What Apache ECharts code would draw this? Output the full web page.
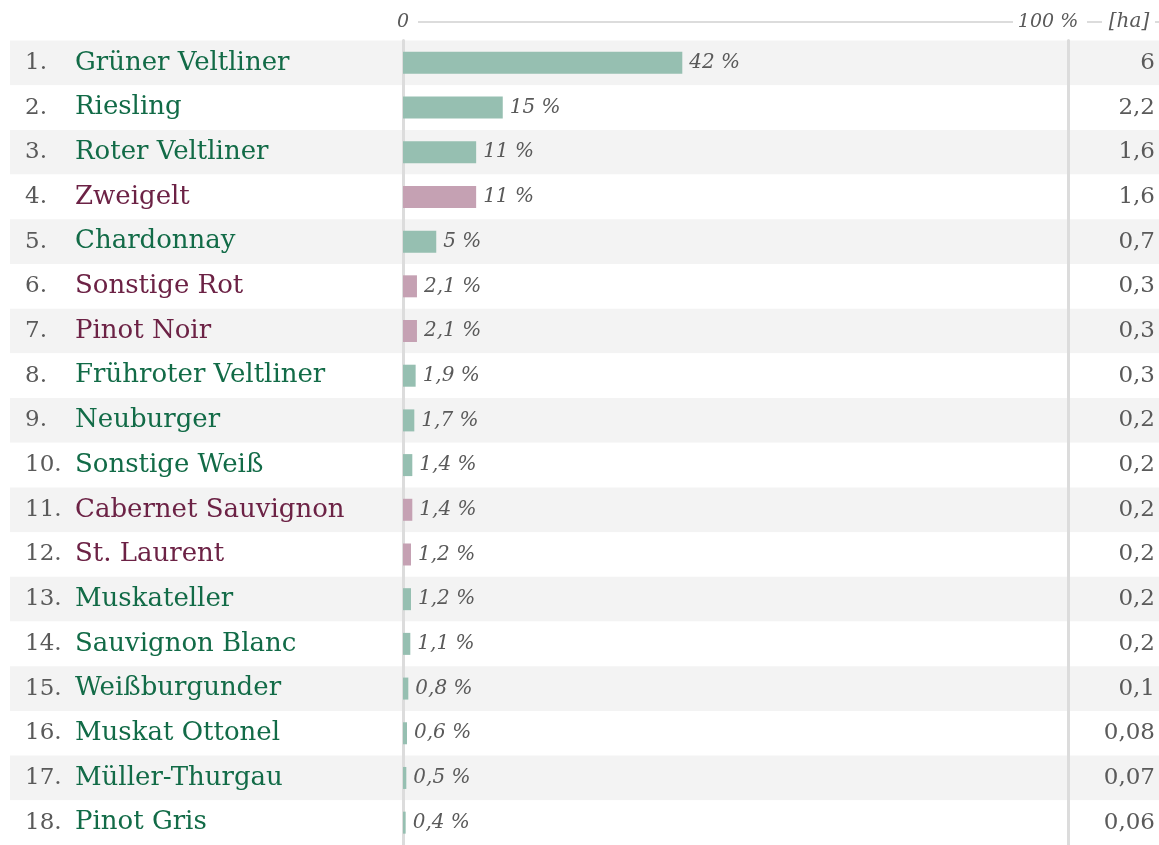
<!DOCTYPE html>
<html><head><meta charset="utf-8">
<script src="https://cdn.jsdelivr.net/npm/echarts@6/dist/echarts.min.js"></script>
<style>html,body{margin:0;padding:0;background:#fff}#c{width:1159px;height:845px}</style>
</head><body><div id="c"></div>
<script>
const varieties = ['Grüner Veltliner','Riesling','Roter Veltliner','Zweigelt','Chardonnay','Sonstige Rot','Pinot Noir','Frühroter Veltliner','Neuburger','Sonstige Weiß','Cabernet Sauvignon','St. Laurent','Muskateller','Sauvignon Blanc','Weißburgunder','Muskat Ottonel','Müller-Thurgau','Pinot Gris'];
const kinds = ['weiss','weiss','weiss','rot','weiss','rot','rot','weiss','weiss','weiss','rot','rot','weiss','weiss','weiss','weiss','weiss','weiss'];
const shares = [42,15,11,11,5,2.1,2.1,1.9,1.7,1.4,1.4,1.2,1.2,1.1,0.8,0.6,0.5,0.4];
const hectares = [6,2.2,1.6,1.6,0.7,0.3,0.3,0.3,0.2,0.2,0.2,0.2,0.2,0.2,0.1,0.08,0.07,0.06];
const headerLabels = ['0','100 %','[ha]'];

const GREEN_T = '#126b47', RED_T = '#6c2245', GREEN_B = '#96bfb1', RED_B = '#c5a1b3';
const FONT = 'DejaVu Serif';
const fmt = v => String(v).replace('.', ',');

const chart = echarts.init(document.getElementById('c'));
const TOP = 40.5, H = 810;
chart.setOption({
  animation: false,
  grid: [
    {left: 10, right: 0, top: TOP, height: H},
    {left: 403, right: 91, top: TOP, height: H}
  ],
  xAxis: [
    {gridIndex: 0, type: 'value', show: false, min: 0, max: 1},
    {gridIndex: 1, type: 'value', min: 0, max: 100, show: false}
  ],
  yAxis: [
    {gridIndex: 0, type: 'category', data: varieties, inverse: true, show: true,
     axisLine: {show: false}, axisTick: {show: false}, axisLabel: {show: false},
     splitLine: {show: false},
     splitArea: {show: true, areaStyle: {color: ['#f3f3f3', '#ffffff']}}},
    {gridIndex: 1, type: 'category', data: varieties, inverse: true,
     axisLine: {show: true, lineStyle: {color: '#dcdcdc', width: 3}},
     axisTick: {show: false},
     axisLabel: {
       align: 'left', margin: 378, fontFamily: FONT,
       formatter: (v, i) => '{num|' + (i + 1) + '.}{' + kinds[i] + '|' + v + '}',
       rich: {
         num: {width: 50, color: '#5a5a5a', fontSize: 23, fontFamily: FONT},
         weiss: {color: GREEN_T, fontSize: 26, fontFamily: FONT},
         rot: {color: RED_T, fontSize: 26, fontFamily: FONT}
       }
     }},
    {gridIndex: 1, type: 'category', data: hectares.map(fmt), inverse: true, position: 'right',
     axisLine: {show: true, lineStyle: {color: '#dcdcdc', width: 3}},
     axisTick: {show: false},
     axisLabel: {align: 'right', margin: 87, color: '#5a5a5a', fontSize: 23, fontFamily: FONT}}
  ],
  series: [{
    type: 'bar', xAxisIndex: 1, yAxisIndex: 1,
    data: shares.map((v, i) => ({value: v, itemStyle: {color: kinds[i] === 'rot' ? RED_B : GREEN_B}})),
    barWidth: 22,
    label: {show: true, position: 'right', distance: 7, color: '#5a5a5a', fontStyle: 'italic',
            fontSize: 20, fontFamily: FONT, formatter: p => fmt(p.value) + ' %'}
  }],
  graphic: [
    {type: 'line', shape: {x1: 418, y1: 22, x2: 1013, y2: 22}, style: {stroke: '#dcdcdc', lineWidth: 2}},
    {type: 'line', shape: {x1: 1087, y1: 22, x2: 1102, y2: 22}, style: {stroke: '#dcdcdc', lineWidth: 2}},
    {type: 'line', shape: {x1: 1155, y1: 22, x2: 1159, y2: 22}, style: {stroke: '#dcdcdc', lineWidth: 2}},
    {type: 'text', x: 403, y: 22, style: {text: headerLabels[0], align: 'center', verticalAlign: 'middle', fill: '#5a5a5a', fontStyle: 'italic', fontSize: 19, fontFamily: FONT}},
    {type: 'text', x: 1048, y: 22, style: {text: headerLabels[1], align: 'center', verticalAlign: 'middle', fill: '#5a5a5a', fontStyle: 'italic', fontSize: 19, fontFamily: FONT}},
    {type: 'text', x: 1129, y: 22, style: {text: headerLabels[2], align: 'center', verticalAlign: 'middle', fill: '#5a5a5a', fontStyle: 'italic', fontSize: 20, fontFamily: FONT}}
  ]
});
</script></body></html>
